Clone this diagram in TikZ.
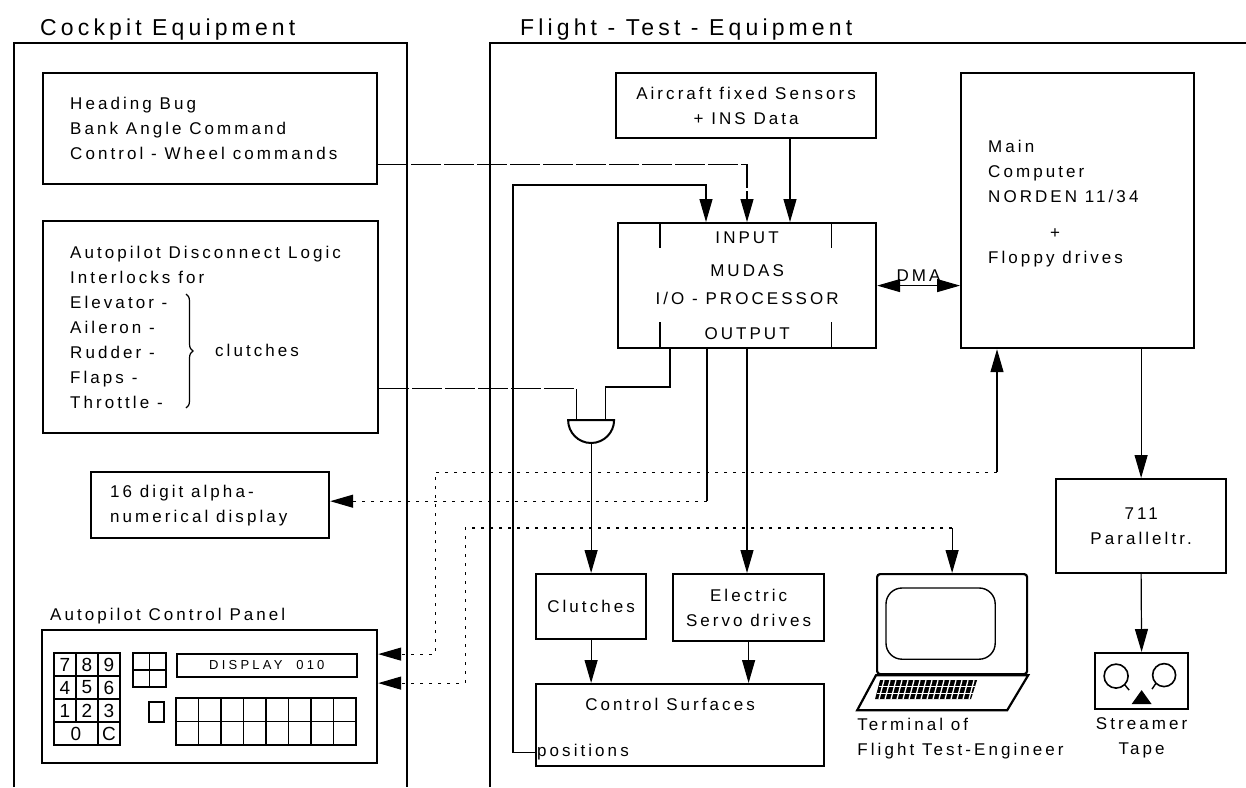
\documentclass[tikz,border=0pt]{standalone}
\usepackage{fontspec}
\setmainfont{Liberation Sans}[LetterSpace=18]
\usetikzlibrary{positioning,arrows.meta,decorations.pathreplacing}

\begin{document}
\begin{tikzpicture}[x=1pt,y=-1pt]
\tikzset{
	every node/.style={font=\fontsize{17}{25}\selectfont},
	box/.style={draw,line width=2.2pt,anchor=north west,inner sep=0pt},
	txt/.style={anchor=west,align=left,inner sep=0pt},
	title/.style={anchor=base west,inner sep=0pt,font=\fontsize{23}{28}\selectfont},
	key/.style={inner sep=0pt,font=\fontsize{19}{19}\selectfont\addfontfeature{LetterSpace=0}},
	frame/.style={line width=2.6pt},
	wire/.style={line width=1.2pt},
	grid/.style={line width=1.6pt},
	tip/.style={-{Triangle[length=23pt,width=13pt]}},
	arr/.style={line width=1.2pt,tip},
	sig/.style={line width=1.1pt,dash pattern=on 30pt off 3pt},
	bus/.style={line width=1.1pt,dash pattern=on 3pt off 6pt}
}
\useasboundingbox (0,0) rectangle (1246,787);

\node[title] (ct) at (40,35) {Cockpit Equipment};
\node[title] (ft) at (520,35) {Flight - Test - Equipment};
\draw[frame] (14,787) |- (407,43) -- (407,787);
\draw[frame] (490,787) |- (1246,43);

\node[box,minimum width=334pt,minimum height=111pt] (hdg) at (42,72) {};
\node[txt] (hdgt) at ([xshift=28pt]hdg.west) {Heading Bug\\Bank Angle Command\\Control - Wheel commands};

\node[box,minimum width=335pt,minimum height=212pt] (dis) at (42,220) {};
\node[txt] (dist) at ([xshift=28pt]dis.west) {Autopilot Disconnect Logic\\Interlocks for\\Elevator -\\Aileron -\\Rudder -\\Flaps -\\Throttle -};
\draw[line width=1.2pt,decorate,decoration={brace,amplitude=7pt}] (186,294) -- (186,408);
\node[anchor=west,inner sep=0pt] (clt) at (215,350) {clutches};

\node[box,minimum width=238pt,minimum height=66pt] (dsp) at (90,471) {};
\node[txt] (dspt) at ([xshift=20pt]dsp.west) {16 digit alpha-\\numerical display};

\node[box,minimum width=335pt,minimum height=133pt] (pnl) at (41,629) {};
\node[anchor=base west,inner sep=0pt] (pnlt) at ([xshift=9pt,yshift=9pt]pnl.north west) {Autopilot Control Panel};
\draw[grid] (54,653) rectangle (120,745);
\foreach \y in {676,699,722} \draw[grid] (54,\y) -- (120,\y);
\draw[grid] (76,653) -- (76,722) (98,653) -- (98,745);
\foreach \a/\b/\c [count=\r from 0] in {7/8/9,4/5/6,1/2/3} {
	\node[key] (k\a) at (65,{664.5+23*\r}) {\a};
	\node[key] (k\b) at (87,{664.5+23*\r}) {\b};
	\node[key] (k\c) at (109,{664.5+23*\r}) {\c};
}
\node[key] (k0) at (76,733.5) {0};
\node[key] (kc) at (109,733.5) {C};
\draw[grid] (133,653) rectangle (166,687) (149.5,653) -- (149.5,687) (133,670) -- (166,670);
\draw[grid] (149,702) rectangle (164,722);
\node[draw,grid,anchor=north west,inner sep=0pt,minimum width=180pt,minimum height=23pt,
	font=\fontsize{13}{13}\selectfont\addfontfeature{LetterSpace=25}] (d10) at (176,653) {DISPLAY\ \ 010};
\draw[grid] (176,698) rectangle (356,745) (176,721.5) -- (356,721.5);
\foreach \i in {1,...,7} \draw[grid] ({176+22.5*\i},698) -- ({176+22.5*\i},745);

\node[box,minimum width=260pt,minimum height=65pt,align=center] (sen) at (615,72) {Aircraft fixed Sensors\\+ INS Data};
\node[box,minimum width=258pt,minimum height=125pt] (mud) at (617,222) {};
\node[align=center,inner sep=0pt] (mudt) at (mud.center) {INPUT\\[8pt]MUDAS\\[3pt]I/O - PROCESSOR\\[10pt]OUTPUT};
\draw[wire] ([xshift=43pt]mud.north west) -- ++(0,26) ([xshift=-46pt]mud.north east) -- ++(0,26)
	([xshift=43pt]mud.south west) -- ++(0,-27) ([xshift=-46pt]mud.south east) -- ++(0,-27);

\node[box,minimum width=233pt,minimum height=275pt] (main) at (960,72) {};
\node[txt] (maint) at ([xshift=28pt,yshift=7pt]main.west) {Main\\Computer\\NORDEN 11/34\\[11pt]\hspace*{62pt}+\\Floppy drives};
\draw[line width=1pt,{Triangle[length=23pt,width=13pt]}-{Triangle[length=23pt,width=13pt]}] (mud.east) -- node[above=4pt,inner sep=0pt] (dma) {DMA} (mud.east -| main.west);

\node[box,minimum width=170pt,minimum height=94pt,align=center] (par) at (1055,478) {711\\Paralleltr.};
\node[box,minimum width=93pt,minimum height=56pt] (str) at (1094,652) {};
\node[below=7pt of str,align=center,inner sep=0pt] (strt) {Streamer\\Tape};
\draw[line width=1.6pt] ([xshift=-25.5pt,yshift=5pt]str.center) circle (12pt) ([xshift=22.5pt,yshift=6pt]str.center) circle (11.5pt);
\draw[line width=1.4pt] ([xshift=-17pt,yshift=-3.5pt]str.center) -- ++(4.5,5.5) ([xshift=14.4pt,yshift=-2pt]str.center) -- ++(-4,6);
\fill ([xshift=-10pt,yshift=-23pt]str.center) -- ++(20,0) -- ++(-10,-14) -- cycle;

\node[box,minimum width=110pt,minimum height=65pt] (clu) at (535,573) {Clutches};
\node[box,minimum width=151pt,minimum height=67pt,align=center] (srv) at (672,573) {Electric\\Servo drives};
\node[box,minimum width=288pt,minimum height=82pt] (cs) at (535,683) {};
\node[below=15pt of cs.north,xshift=-10pt,inner sep=0pt] (cst) {Control Surfaces};
\node[anchor=west,inner sep=0pt] (pos) at ([xshift=2pt,yshift=15pt]cs.south west) {positions};

\node[box,minimum width=150pt,minimum height=100pt,rounded corners=3pt] (trm) at (876,573) {};
\draw[line width=1.4pt,rounded corners=16pt] ([xshift=10pt,yshift=-15pt]trm.north west) rectangle ([xshift=-33pt,yshift=16pt]trm.south east);
\draw[line width=2.2pt] (trm.south west) -- (trm.south east) -- ++(-21,35) -- ++(-150,0) coordinate (kb) -- cycle;
\begin{scope}[shift={(trm.south west)}]
	\fill (4,5) -- (101,5) -- (95,24) -- (-1,24) -- cycle;
	\foreach \x in {8,14,...,98} \draw[white,line width=1.3pt] (\x,5) -- ({\x-5},24);
	\draw[white,line width=1.3pt] (2.5,11.5) -- (99,11.5) (1,18) -- (97,18);
\end{scope}
\node[anchor=north west,inner sep=0pt,align=left] (trmt) at ([yshift=-8pt]kb) {Terminal of\\Flight Test-Engineer};

\coordinate (in1) at ([xshift=89pt]mud.north west);
\coordinate (in2) at ([xshift=130pt]mud.north west);
\coordinate (in3) at ([xshift=173pt]mud.north west);
\coordinate (o1) at ([xshift=53pt]mud.south west);
\coordinate (o2) at ([xshift=90pt]mud.south west);
\coordinate (o3) at ([xshift=130pt]mud.south west);
\coordinate (gt) at ([yshift=153pt]clu.north);
\coordinate (m1) at ([xshift=37pt]main.south west);

\draw[arr] (sen.south -| in3) -- (in3);
\draw[sig,arr] ([yshift=-35.5pt]hdg.east) -| (in2);
\draw[wire,tip] ([yshift=15pt]cs.south west) -- ++(-22,0) |- ([yshift=37pt]in1) -- (in1);

\draw[line width=2pt] ([xshift=23pt]gt) .. controls +(0,12.7) and +(12.7,0) .. ([yshift=-23pt]gt)
	.. controls +(-12.7,0) and +(0,12.7) .. ([xshift=-23pt]gt) -- cycle;
\draw[sig] ([yshift=-61pt]dis.east) -| ([xshift=-15pt]gt);
\draw[wire] (o1) |- ([xshift=14pt,yshift=33pt]gt) -- ([xshift=14pt]gt);
\draw[arr] ([yshift=-23pt]gt) -- (clu.north);

\draw[wire] (o2) -- ++(0,152) coordinate (j2);
\draw[bus,arr] (j2) -- (j2 -| dsp.east);
\draw[arr] (o3) -- (o3 |- srv.north);
\draw[arr] (clu.south) -- (clu.south |- cs.north);
\draw[arr] (srv.south) -- (srv.south |- cs.north);

\draw[arr] (main.south -| par.north) -- (par.north);
\draw[arr] (par.south) -- (str.north);

\draw[arr] ([yshift=-123pt]m1) coordinate (b1) -- (m1);
\draw[bus,arr] (b1) -| ([xshift=57pt,yshift=42.5pt]pnl.east) -- ([yshift=42.5pt]pnl.east);
\draw[arr] ([yshift=45pt]trm.north) coordinate (b2) -- (trm.north);
\draw[bus,arr] (b2) -| ([xshift=87pt,yshift=13.5pt]pnl.east) -- ([yshift=13.5pt]pnl.east);
\end{tikzpicture}
\end{document}
